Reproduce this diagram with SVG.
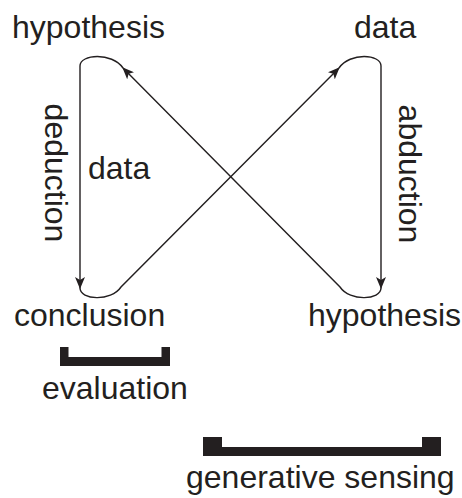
<svg xmlns="http://www.w3.org/2000/svg" width="462" height="498" viewBox="0 0 462 498">
<style>
text{font-family:"Liberation Sans",Arial,sans-serif;font-size:32px;fill:#231f20}
.c{fill:none;stroke:#231f20;stroke-width:1.4}
.b{fill:#231f20}
</style>
<defs>
<marker id="ah" viewBox="0 0 12 10" refX="11" refY="5" markerWidth="12" markerHeight="10" markerUnits="userSpaceOnUse" orient="auto">
<path d="M0,0 L12,5 L0,10 L3,5 Z" fill="#231f20"/>
</marker>
</defs>
<rect width="462" height="498" fill="#fff"/>
<g id="connectors">
<path class="c" marker-end="url(#ah)" d="M123,68 C112,52 80,54 80,66 L80,288"/>
<path class="c" marker-end="url(#ah)" d="M80,288 C80,300 111,302 121,287 L339,68"/>
<path class="c" marker-end="url(#ah)" d="M339,68 C350,52 381,54 381,66 L381,288"/>
<path class="c" marker-end="url(#ah)" d="M381,288 C381,300 350,302 340,287 L123,68"/>
</g>
<g id="hypothesis-top"><text x="12" y="38">hypothesis</text></g>
<g id="data-top"><text x="354" y="38">data</text></g>
<g id="deduction"><text transform="translate(45,173) rotate(90)" text-anchor="middle">deduction</text></g>
<g id="data-mid"><text x="88" y="179">data</text></g>
<g id="abduction"><text transform="translate(399,174) rotate(90)" text-anchor="middle">abduction</text></g>
<g id="conclusion"><text x="14" y="326">conclusion</text></g>
<g id="hypothesis-bottom"><text x="308" y="326">hypothesis</text></g>
<g id="evaluation">
<path class="b" d="M60,347 H68.5 V357 H161.5 V347 H170 V366 H60 Z"/>
<text x="42" y="399">evaluation</text>
</g>
<g id="generative-sensing">
<path class="b" d="M203,437 H222 V447 H422 V437 H441 V456 H203 Z"/>
<text x="186" y="488">generative sensing</text>
</g>
</svg>
